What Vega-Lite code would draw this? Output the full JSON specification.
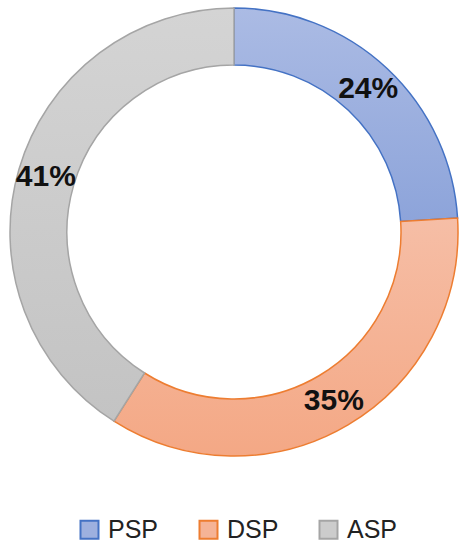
{
  "$schema": "https://vega.github.io/schema/vega-lite/v6.json",
  "width": 468,
  "height": 464,
  "padding": {"left": 0, "top": 0, "right": 3, "bottom": 86},
  "autosize": {"type": "none"},
  "background": "white",
  "config": {"view": {"stroke": null}},
  "data": {"values": [
    {"cat": "PSP", "value": 0.24, "k": 1},
    {"cat": "DSP", "value": 0.35, "k": 2},
    {"cat": "ASP", "value": 0.41, "k": 3}
  ]},
  "encoding": {
    "theta": {"field": "value", "type": "quantitative", "stack": true},
    "order": {"field": "k", "type": "quantitative"}
  },
  "layer": [
    {
      "mark": {"type": "arc", "outerRadius": 224, "innerRadius": 167, "strokeWidth": 1.5},
      "encoding": {
        "fill": {
          "field": "cat", "type": "nominal",
          "condition": [
            {"test": "datum.cat === 'PSP'", "value": {"gradient": "linear", "x1": 0, "y1": 0, "x2": 0, "y2": 1, "stops": [{"offset": 0, "color": "#ABBBE4"}, {"offset": 1, "color": "#8DA4DA"}]}},
            {"test": "datum.cat === 'DSP'", "value": {"gradient": "linear", "x1": 0, "y1": 0, "x2": 0, "y2": 1, "stops": [{"offset": 0, "color": "#F6BEA6"}, {"offset": 1, "color": "#F4A885"}]}},
            {"test": "datum.cat === 'ASP'", "value": {"gradient": "linear", "x1": 0, "y1": 0, "x2": 0, "y2": 1, "stops": [{"offset": 0, "color": "#D4D4D4"}, {"offset": 1, "color": "#C3C3C3"}]}}
          ],
          "scale": {"domain": ["PSP", "DSP", "ASP"], "range": ["#9DB0DF", "#F5B396", "#CCCCCC"]},
          "legend": {
            "title": null, "orient": "none", "direction": "horizontal",
            "legendX": 77, "legendY": 517, "padding": 0,
            "symbolType": "square", "symbolSize": 324, "symbolStrokeWidth": 2,
            "labelFont": "Liberation Sans", "labelFontSize": 25, "labelColor": "#222222",
            "labelOffset": 6, "columnPadding": 36
          }
        },
        "stroke": {
          "field": "cat", "type": "nominal",
          "scale": {"domain": ["PSP", "DSP", "ASP"], "range": ["#4472C4", "#ED7D31", "#A5A5A5"]},
          "legend": {
            "title": null, "orient": "none", "direction": "horizontal",
            "legendX": 77, "legendY": 517, "padding": 0,
            "symbolType": "square", "symbolSize": 324, "symbolStrokeWidth": 2,
            "labelFont": "Liberation Sans", "labelFontSize": 25, "labelColor": "#222222",
            "labelOffset": 6, "columnPadding": 36
          }
        }
      }
    },
    {
      "mark": {"type": "text", "radius": 196, "font": "Liberation Sans", "fontWeight": "bold", "fontSize": 30, "color": "#111111", "baseline": "middle", "align": "center"},
      "encoding": {
        "text": {"field": "value", "type": "quantitative", "format": ".0%"}
      }
    }
  ]
}
